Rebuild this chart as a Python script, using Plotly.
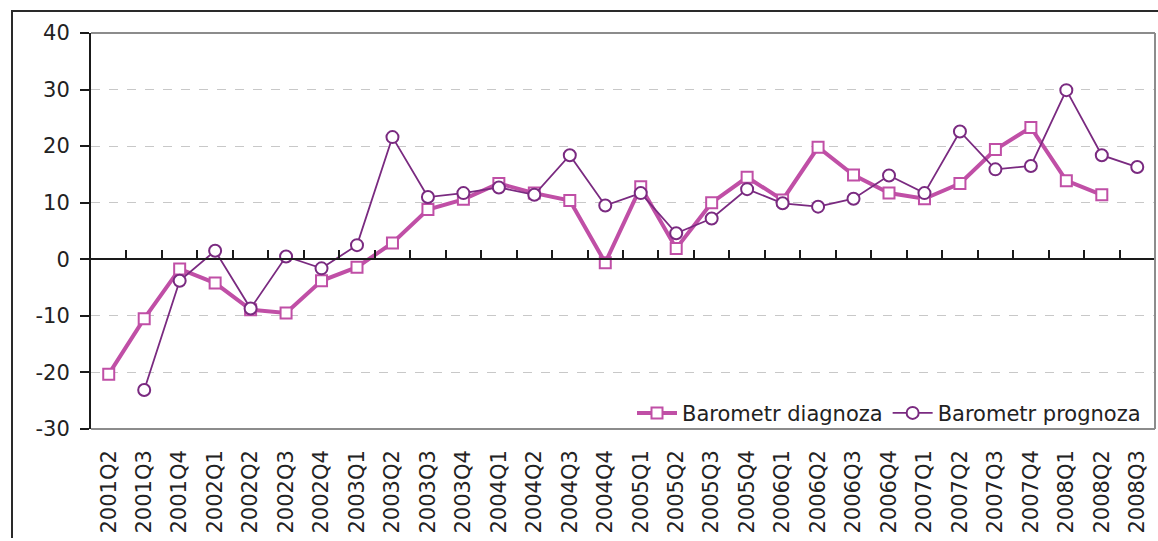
import plotly.graph_objects as go

categories = ["2001Q2", "2001Q3", "2001Q4", "2002Q1", "2002Q2", "2002Q3", "2002Q4",
              "2003Q1", "2003Q2", "2003Q3", "2003Q4", "2004Q1", "2004Q2", "2004Q3",
              "2004Q4", "2005Q1", "2005Q2", "2005Q3", "2005Q4", "2006Q1", "2006Q2",
              "2006Q3", "2006Q4", "2007Q1", "2007Q2", "2007Q3", "2007Q4", "2008Q1",
              "2008Q2", "2008Q3"]

diagnoza = [-20.3, -10.5, -1.7, -4.2, -8.9, -9.5, -3.8, -1.4, 2.9, 8.8,
            10.6, 13.4, 11.7, 10.4, -0.6, 12.8, 1.9, 10.0, 14.5, 10.5,
            19.8, 14.9, 11.7, 10.7, 13.4, 19.4, 23.3, 13.9, 11.4, None]

prognoza = [None, -23.1, -3.8, 1.5, -8.7, 0.5, -1.6, 2.5, 21.6, 11.0,
            11.7, 12.7, 11.4, 18.4, 9.5, 11.7, 4.6, 7.2, 12.4, 9.9,
            9.3, 10.7, 14.8, 11.7, 22.6, 15.9, 16.5, 29.9, 18.4, 16.3]

y_ticks = [-30, -20, -10, 0, 10, 20, 30, 40]
y_labels = ["-30", "-20", "-10", "0", "10", "20", "30", "40"]

FONT = "DejaVu Sans"
C_DIAG = "#C04FA6"
C_PROG = "#7A2A80"

W, H = 1158, 541
ML, MR, MT, MB = 91, 3, 33, 112
PW = W - ML - MR
PH = H - MT - MB

fig = go.Figure()

fig.add_trace(go.Scatter(
    x=categories, y=diagnoza, name="Barometr diagnoza", mode="lines+markers",
    line=dict(color=C_DIAG, width=4),
    marker=dict(symbol="square", size=11, color="white",
                line=dict(color=C_DIAG, width=2)),
))
fig.add_trace(go.Scatter(
    x=categories, y=prognoza, name="Barometr prognoza", mode="lines+markers",
    line=dict(color=C_PROG, width=1.8),
    marker=dict(symbol="circle", size=12, color="white",
                line=dict(color=C_PROG, width=2)),
))
# helper trace so the zero-level category axis (ticks between quarters) is drawn
fig.add_trace(go.Scatter(
    x=categories, y=[None] * len(categories), xaxis="x2", mode="lines",
    showlegend=False, hoverinfo="skip",
))

def px_x(p):
    return (p - ML) / PW

def px_y(p):
    return (MT + PH - p) / PH

shapes = [
    # outer frame (left and top)
    dict(type="line", xref="paper", yref="paper", x0=px_x(12), x1=px_x(12),
         y0=px_y(538), y1=px_y(11), line=dict(color="#2a2a2a", width=2)),
    dict(type="line", xref="paper", yref="paper", x0=px_x(11), x1=1.05,
         y0=px_y(11), y1=px_y(11), line=dict(color="#2a2a2a", width=2)),
    # grey plot border: top, right, bottom
    dict(type="line", xref="paper", yref="paper", x0=0, x1=1, y0=1, y1=1,
         line=dict(color="#8c8c8c", width=2)),
    dict(type="line", xref="paper", yref="paper", x0=1, x1=1, y0=0, y1=1,
         line=dict(color="#8c8c8c", width=2)),
    dict(type="line", xref="paper", yref="paper", x0=0, x1=1, y0=0, y1=0,
         line=dict(color="#8c8c8c", width=2)),
]

fig.update_layout(
    width=W, height=H,
    margin=dict(l=ML, r=MR, t=MT, b=MB, pad=0),
    paper_bgcolor="white", plot_bgcolor="white",
    font=dict(family=FONT, size=21, color="#222222"),
    showlegend=True,
    legend=dict(orientation="h", xanchor="right", yanchor="bottom",
                x=px_x(1146), y=-0.012, bgcolor="rgba(0,0,0,0)",
                font=dict(family=FONT, size=21, color="#222222"),
                itemwidth=40, tracegroupgap=0),
    xaxis=dict(type="category", categoryorder="array", categoryarray=categories,
               range=[-0.5, len(categories) - 0.5],
               showline=False, ticks="", showgrid=False, zeroline=False,
               tickangle=-90, ticklabelstandoff=16,
               tickfont=dict(family=FONT, size=21, color="#222222")),
    xaxis2=dict(type="category", categoryorder="array", categoryarray=categories,
                range=[-0.5, len(categories) - 0.5],
                overlaying="x", anchor="free", position=30 / 70, side="bottom",
                showline=True, linecolor="#1a1a1a", linewidth=2,
                ticks="inside", tickson="boundaries", ticklen=8, tickwidth=1.5,
                tickcolor="#1a1a1a", showticklabels=False, showgrid=False,
                zeroline=False),
    yaxis=dict(range=[-30, 40], tickvals=y_ticks, ticktext=y_labels,
               showline=True,
               linecolor="#1a1a1a", linewidth=2, ticks="outside", ticklen=9,
               tickwidth=1.5, tickcolor="#1a1a1a", showgrid=True,
               gridcolor="#c8c8c8", griddash="dash", gridwidth=1,
               zeroline=False, ticklabelstandoff=6,
               tickfont=dict(family=FONT, size=21, color="#222222")),
    shapes=shapes,
)

fig.write_html("out.html", config={"displayModeBar": False},
               post_script="document.body.style.margin='0';document.body.style.padding='0';")
